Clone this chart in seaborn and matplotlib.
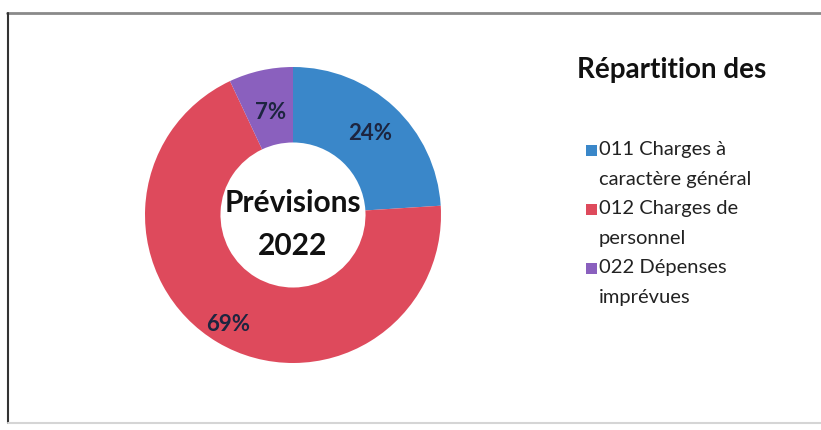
import matplotlib
matplotlib.use("Agg")
import matplotlib.pyplot as plt
import seaborn as sns
import numpy as np
from matplotlib.patches import Rectangle
from matplotlib.lines import Line2D

# Budget split for the 2022 forecast
legend_lines = [["011 Charges à", "caractère général"],
                ["012 Charges de", "personnel"],
                ["022 Dépenses", "imprévues"]]
shares = [24, 69, 7]
colors = ["#3A87C9", "#DE4A5C", "#8A60BE"]
title = "Répartition des"
center_lines = ["Prévisions", "2022"]

sns.set_theme(style="white")
plt.rcParams["font.family"] = ["Lato", "DejaVu Sans"]

W, H = 821, 430
fig = plt.figure(figsize=(W / 100, H / 100), dpi=100)
fig.patch.set_facecolor("white")


def fx(px):
    return px / W


def fy(py):
    return 1 - py / H


# donut
cx, cy, R = 293, 215, 148
ax = fig.add_axes([fx(cx - R), fy(cy + R), 2 * R / W, 2 * R / H])
wedges, _ = ax.pie(shares, colors=colors, startangle=90, counterclock=False,
                   wedgeprops=dict(width=0.51, edgecolor="none"))
ax.set_xlim(-1, 1)
ax.set_ylim(-1, 1)
ax.set_aspect("equal")
ax.axis("off")

label_r = [0.76, 0.86, 0.71]
for w, s, r in zip(wedges, shares, label_r):
    mid = np.deg2rad((w.theta1 + w.theta2) / 2)
    ax.text(r * np.cos(mid), r * np.sin(mid), f"{s}%", ha="center",
            va="center", fontsize=16, fontweight="bold", color="#1d2540")

# centre caption, one line at a time
for txt, base_px in zip(center_lines, [212, 255]):
    fig.text(fx(cx), fy(base_px), txt, ha="center", va="baseline",
             fontsize=21.5, fontweight="bold", color="#111111")

# legend block
fig.text(fx(577), fy(78), title, ha="left", va="baseline", fontsize=20,
         fontweight="bold", color="#111111")

line_y = 150
step = 29.5
for lines, c in zip(legend_lines, colors):
    fig.add_artist(Rectangle((fx(586), fy(line_y + 5.5)), 11 / W, 11 / H,
                             transform=fig.transFigure, facecolor=c,
                             edgecolor="none"))
    for ln in lines:
        fig.text(fx(599), fy(line_y), ln, ha="left", va="center",
                 fontsize=14.5, color="#222222")
        line_y += step

# outer frame
fig.add_artist(Line2D([fx(7), 1], [fy(13), fy(13)], color="#8a8a8a", lw=2,
                      transform=fig.transFigure))
fig.add_artist(Line2D([fx(8), fx(8)], [fy(13), fy(423)], color="#333333",
                      lw=1.5, transform=fig.transFigure))
fig.add_artist(Line2D([fx(8), 1], [fy(423), fy(423)], color="#d5d5d5", lw=1.5,
                      transform=fig.transFigure))

fig.savefig("out.png", dpi=100)
